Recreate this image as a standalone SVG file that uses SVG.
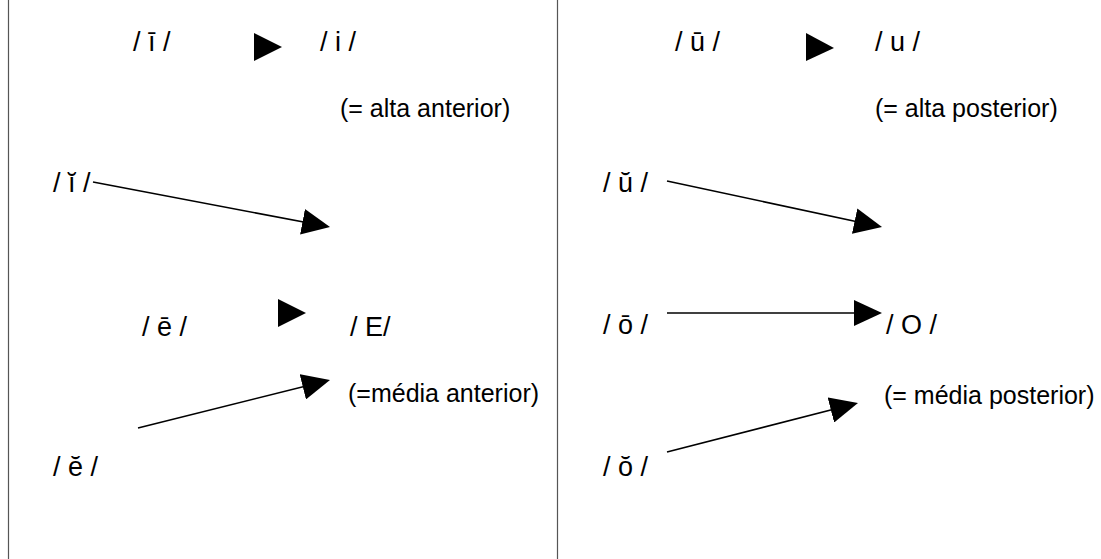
<svg xmlns="http://www.w3.org/2000/svg" width="1101" height="559" viewBox="0 0 1101 559">
<defs>
<style>
text { font-family: "Liberation Sans", Arial, sans-serif; fill: #000; }
.v { font-size: 27px; }
.n { font-size: 25px; }
.conn { stroke: #000; stroke-width: 1.6; fill: none; marker-end: url(#head); }
.tri { fill: #000; }
.frame { stroke: #555; stroke-width: 1.2; }
</style>
<marker id="head" markerUnits="userSpaceOnUse" markerWidth="28" markerHeight="26" refX="24" refY="13" orient="auto" viewBox="0 0 28 26">
<path d="M0,0 L28,13 L0,26 z" fill="#000"/>
</marker>
</defs>
<rect width="1101" height="559" fill="#fff"/>
<g id="frame">
<line class="frame" x1="8.5" y1="0" x2="8.5" y2="559"/>
<line class="frame" x1="557.5" y1="0" x2="557.5" y2="559"/>
</g>
<g id="connectors">
<polygon class="tri" points="254,33 282,47 254,61"/>
<polygon class="tri" points="278,299 306,313 278,327"/>
<polygon class="tri" points="806,33 834,48 806,61"/>
<line class="conn" x1="93" y1="182" x2="326.1" y2="226.3"/>
<line class="conn" x1="138" y1="428" x2="326.1" y2="381"/>
<line class="conn" x1="667" y1="181" x2="878.1" y2="226.2"/>
<line class="conn" x1="667" y1="313" x2="878" y2="313"/>
<line class="conn" x1="667" y1="452" x2="854.1" y2="404"/>
</g>
<g id="n-i-long"><text class="v" x="133" y="51">/ ī /</text></g>
<g id="n-i"><text class="v" x="320" y="51">/ i /</text></g>
<g id="n-alta-anterior"><text class="n" x="340" y="117">(= alta anterior)</text></g>
<g id="n-i-short"><text class="v" x="53" y="192">/ ĭ /</text></g>
<g id="n-e-long"><text class="v" x="142" y="336">/ ē /</text></g>
<g id="n-E"><text class="v" x="350" y="336">/ E/</text></g>
<g id="n-media-anterior"><text class="n" x="348" y="402">(=média anterior)</text></g>
<g id="n-e-short"><text class="v" x="53" y="476">/ ĕ /</text></g>
<g id="n-u-long"><text class="v" x="675" y="51">/ ū /</text></g>
<g id="n-u"><text class="v" x="875" y="51">/ u /</text></g>
<g id="n-alta-posterior"><text class="n" x="875" y="117">(= alta posterior)</text></g>
<g id="n-u-short"><text class="v" x="603" y="192">/ ŭ /</text></g>
<g id="n-o-long"><text class="v" x="603" y="334">/ ō /</text></g>
<g id="n-O"><text class="v" x="886" y="334">/ O /</text></g>
<g id="n-media-posterior"><text class="n" x="884" y="404">(= média posterior)</text></g>
<g id="n-o-short"><text class="v" x="603" y="476">/ ŏ /</text></g>
</svg>
